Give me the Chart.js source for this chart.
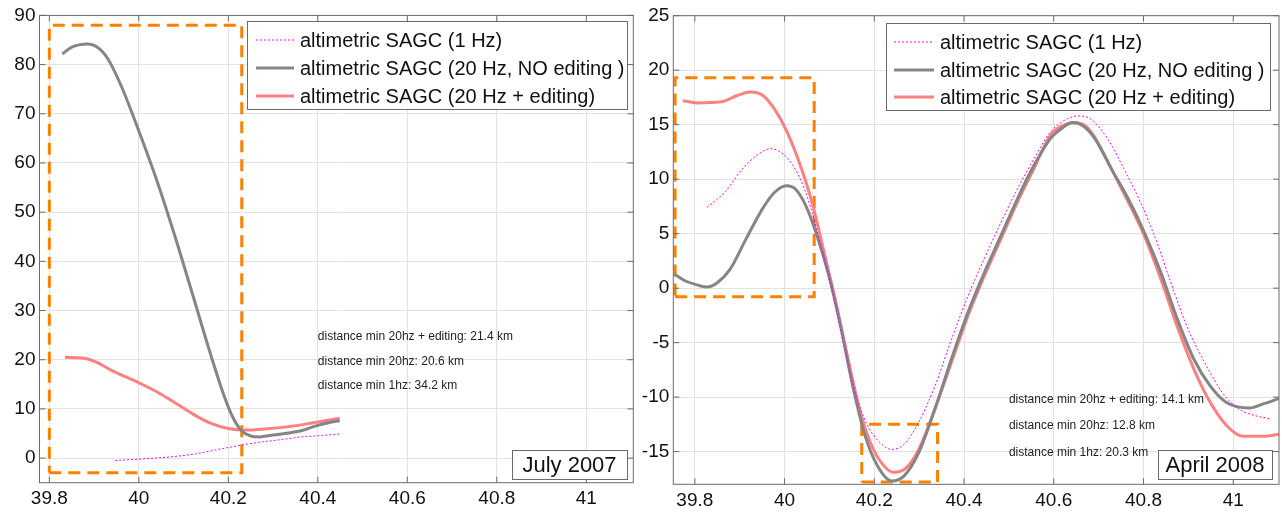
<!DOCTYPE html>
<html>
<head>
<meta charset="utf-8">
<title>SAGC profiles</title>
<script src="https://cdn.jsdelivr.net/npm/chart.js@4.4.1/dist/chart.umd.min.js"></script>
<style>
  html, body { margin: 0; padding: 0; background: #fff; }
  #wrap { position: relative; width: 1282px; height: 512px; }
  .panel { position: absolute; top: 0; height: 512px; }
  #p1 { left: 0; width: 640px; }
  #p2 { left: 640px; width: 642px; }
</style>
</head>
<body>
<div id="wrap">
  <div class="panel" id="p1"><canvas id="c1" width="640" height="512"></canvas></div>
  <div class="panel" id="p2"><canvas id="c2" width="642" height="512"></canvas></div>
</div>
<script>
// ---------- data ----------
var xTicks = [39.8, 40, 40.2, 40.4, 40.6, 40.8, 41];
var julyYTicks = [0, 10, 20, 30, 40, 50, 60, 70, 80, 90];
var aprilYTicks = [-15, -10, -5, 0, 5, 10, 15, 20, 25];

var seriesLabels = [
  "altimetric SAGC (1 Hz)",
  "altimetric SAGC (20 Hz, NO editing )",
  "altimetric SAGC (20 Hz + editing)"
];

// July 2007
var julyX1Hz = [39.947, 40.003, 40.077, 40.129, 40.173, 40.203, 40.232, 40.268, 40.312, 40.363, 40.409, 40.449];
var julyY1Hz = [-0.5, -0.2, 0.3, 0.9, 1.7, 2.2, 2.7, 3.2, 3.7, 4.3, 4.6, 4.9];
var julyX20 = [39.829, 39.849, 39.886, 39.905, 39.93, 39.96, 40.0, 40.04, 40.08, 40.12,
  40.16, 40.19, 40.21, 40.23, 40.25, 40.27, 40.3, 40.335, 40.365, 40.394,
  40.424, 40.449];
var julyY20 = [82.15, 83.5, 84.2, 83.7, 81.3, 75.8, 66.5, 56.5, 45.3, 33.3,
  21.2, 12.8, 8.3, 5.5, 4.5, 4.3, 4.7, 5.1, 5.6, 6.5,
  7.2, 7.6];
var julyXEd = [39.835, 39.878, 39.905, 39.94, 40.0, 40.04, 40.08, 40.12, 40.16, 40.2,
  40.24, 40.28, 40.335, 40.39, 40.449];
var julyYEd = [20.5, 20.3, 19.5, 17.8, 15.3, 13.5, 11.3, 9.0, 7.1, 6.0,
  5.7, 5.9, 6.4, 7.2, 8.1];
var julyBoxX = [39.80, 40.23];
var julyBoxY = [-3, 88];
var julyNotes = [
  "distance min 20hz + editing: 21.4 km",
  "distance min 20hz: 20.6 km",
  "distance min 1hz: 34.2 km"
];

// April 2008
var aprilX1Hz = [39.827, 39.869, 39.905, 39.942, 39.969, 39.997, 40.024, 40.052, 40.079, 40.107,
  40.134, 40.162, 40.189, 40.216, 40.239, 40.267, 40.299, 40.335, 40.372, 40.409,
  40.445, 40.482, 40.519, 40.555, 40.592, 40.628, 40.656, 40.683, 40.72, 40.757,
  40.793, 40.83, 40.866, 40.903, 40.94, 40.976, 41.013, 41.049, 41.084];
var aprilY1Hz = [7.4, 8.9, 10.9, 12.3, 12.8, 12.3, 10.9, 8.2, 4.2, -0.4,
  -5.6, -10.2, -12.9, -14.3, -14.8, -14.3, -12.3, -9.0, -4.7, -0.7,
  2.7, 6.0, 9.1, 11.8, 14.3, 15.5, 15.8, 15.5, 13.7, 10.9,
  7.9, 4.2, -0.1, -4.1, -7.1, -9.6, -11.1, -11.7, -12.0];
var aprilX20 = [39.754, 39.777, 39.805, 39.827, 39.85, 39.878, 39.914, 39.951, 39.978, 40.004,
  40.024, 40.047, 40.07, 40.097, 40.125, 40.152, 40.18, 40.207, 40.239, 40.267,
  40.299, 40.335, 40.372, 40.409, 40.445, 40.482, 40.519, 40.555, 40.592, 40.619,
  40.642, 40.665, 40.692, 40.729, 40.766, 40.802, 40.839, 40.875, 40.912, 40.949,
  40.985, 41.036, 41.068, 41.104];
var aprilY20 = [1.3, 0.7, 0.3, 0.1, 0.5, 1.7, 4.5, 7.3, 8.8, 9.4,
  9.1, 7.6, 5.1, 1.4, -3.5, -9.0, -13.6, -16.3, -17.7, -17.2,
  -15.1, -11.1, -6.5, -2.2, 1.4, 4.8, 8.2, 11.2, 13.7, 14.7,
  15.2, 14.9, 13.7, 10.9, 8.2, 5.1, 1.4, -2.8, -6.5, -9.0,
  -10.5, -11.0, -10.6, -10.1];
var aprilXEd = [39.773, 39.805, 39.859, 39.896, 39.924, 39.951, 39.978, 40.006, 40.033, 40.061,
  40.088, 40.116, 40.143, 40.171, 40.198, 40.226, 40.244, 40.271, 40.299, 40.335,
  40.372, 40.409, 40.445, 40.482, 40.519, 40.555, 40.592, 40.619, 40.647, 40.67,
  40.692, 40.729, 40.766, 40.802, 40.839, 40.875, 40.912, 40.949, 40.985, 41.022,
  41.068, 41.104];
var aprilYEd = [17.2, 17.0, 17.1, 17.7, 18.0, 17.7, 16.4, 14.3, 11.5, 7.9,
  3.3, -1.6, -6.8, -11.7, -14.8, -16.5, -16.9, -16.5, -14.8, -11.1,
  -6.8, -2.5, 1.1, 4.5, 7.9, 10.9, 14.0, 14.9, 15.2, 14.9,
  13.8, 10.9, 7.9, 4.8, 0.8, -3.5, -7.4, -10.5, -12.6, -13.6,
  -13.6, -13.4];
var aprilBoxX = [39.756, 40.066];
var aprilBoxY = [-0.8, 19.3];
var aprilBox2X = [40.172, 40.341];
var aprilBox2Y = [-17.8, -12.5];
var aprilNotes = [
  "distance min 20hz + editing: 14.1 km",
  "distance min 20hz: 12.8 km",
  "distance min 1hz: 20.3 km"
];

// ---------- helpers ----------
var FONT = "'Liberation Sans', Arial, Helvetica, sans-serif";

function pts(xs, ys) {
  return xs.map(function (x, i) { return { x: x, y: ys[i] }; });
}

function rect(bx, by) { // closed outline, drawn through the scales
  return [
    { x: bx[0], y: by[0] }, { x: bx[1], y: by[0] },
    { x: bx[1], y: by[1] }, { x: bx[0], y: by[1] }, { x: bx[0], y: by[0] }
  ];
}

function curves(x1, y1, x20, y20, xEd, yEd) {
  var base = { showLine: true, pointRadius: 0, fill: false, cubicInterpolationMode: "monotone" };
  return [
    Object.assign({ label: seriesLabels[0], data: pts(x1, y1),
      borderColor: "#ff00ff", borderWidth: 1, borderDash: [2, 2] }, base),
    Object.assign({ label: seriesLabels[1], data: pts(x20, y20),
      borderColor: "#858585", borderWidth: 3 }, base),
    Object.assign({ label: seriesLabels[2], data: pts(xEd, yEd),
      borderColor: "#ff8080", borderWidth: 3 }, base)
  ];
}

function boxDs(bx, by) {
  return { data: rect(bx, by), showLine: true, pointRadius: 0, fill: false, tension: 0,
    borderColor: "#ff8000", borderWidth: 3, borderDash: [12, 7] };
}

// ---------- plugins ----------
var framePlugin = {
  id: "frame",
  afterDraw: function (chart) {
    var c = chart.ctx, a = chart.chartArea, sx = chart.scales.x, sy = chart.scales.y;
    c.save();
    c.strokeStyle = "#6b6b6b";
    c.lineWidth = 1;
    c.strokeRect(a.left, a.top, a.right - a.left, a.bottom - a.top);
    c.beginPath();
    sx.ticks.forEach(function (t) {
      var px = sx.getPixelForValue(t.value);
      c.moveTo(px, a.bottom); c.lineTo(px, a.bottom - 6);
      c.moveTo(px, a.top); c.lineTo(px, a.top + 6);
    });
    sy.ticks.forEach(function (t) {
      var py = sy.getPixelForValue(t.value);
      c.moveTo(a.left, py); c.lineTo(a.left + 6, py);
      c.moveTo(a.right, py); c.lineTo(a.right - 6, py);
    });
    c.stroke();
    c.restore();
  }
};

var legendPlugin = {
  id: "boxLegend",
  afterDraw: function (chart, args, o) {
    var c = chart.ctx, b = o.box;
    c.save();
    c.fillStyle = "#fff";
    c.fillRect(b[0], b[1], b[2] - b[0], b[3] - b[1]);
    c.strokeStyle = "#6b6b6b";
    c.lineWidth = 1;
    c.strokeRect(b[0] + 0.5, b[1] + 0.5, b[2] - b[0], b[3] - b[1]);
    c.font = "20px " + FONT;
    c.textBaseline = "middle";
    c.fillStyle = "#111";
    for (var i = 0; i < 3; i++) {
      var ds = chart.data.datasets[i], y = o.rows[i];
      c.beginPath();
      c.strokeStyle = ds.borderColor;
      c.lineWidth = ds.borderWidth;
      c.setLineDash(ds.borderDash || []);
      c.moveTo(o.line[0], y); c.lineTo(o.line[1], y);
      c.stroke();
      c.setLineDash([]);
      c.fillText(ds.label, o.textX, y + 1);
    }
    c.restore();
  }
};

var notesPlugin = {
  id: "notes",
  afterDraw: function (chart, args, o) {
    var c = chart.ctx, sx = chart.scales.x, sy = chart.scales.y;
    c.save();
    c.font = "12px " + FONT;
    c.fillStyle = "#222";
    c.textBaseline = "middle";
    o.lines.forEach(function (txt, i) {
      c.fillText(txt, sx.getPixelForValue(o.x), sy.getPixelForValue(o.ys[i]));
    });
    // period label in the lower right corner
    var b = o.tagBox;
    c.fillStyle = "#fff";
    c.fillRect(b[0], b[1], b[2] - b[0], b[3] - b[1]);
    c.strokeStyle = "#6b6b6b";
    c.lineWidth = 1;
    c.strokeRect(b[0] + 0.5, b[1] + 0.5, b[2] - b[0], b[3] - b[1]);
    c.font = "22px " + FONT;
    c.fillStyle = "#111";
    c.textAlign = "center";
    c.fillText(o.tag, (b[0] + b[2]) / 2, (b[1] + b[3]) / 2 + 1);
    c.restore();
  }
};

function makeChart(id, cfg) {
  var tickFont = { family: FONT, size: 19 };
  return new Chart(document.getElementById(id), {
    type: "scatter",
    data: { datasets: cfg.datasets },
    options: {
      responsive: false,
      animation: false,
      events: [],
      layout: { padding: cfg.pad },
      plugins: {
        legend: { display: false },
        tooltip: { enabled: false },
        boxLegend: cfg.legend,
        notes: cfg.notes
      },
      scales: {
        x: {
          type: "linear", min: cfg.xMin, max: cfg.xMax,
          afterBuildTicks: function (s) { s.ticks = xTicks.map(function (v) { return { value: v }; }); },
          afterFit: function (s) { s.height = cfg.xAxisH; },
          grid: { color: "#e2e2e2", drawTicks: false },
          border: { display: false },
          ticks: { font: tickFont, color: "#111", padding: 5, maxRotation: 0, autoSkip: false,
            callback: function (v) { return String(v); } }
        },
        y: {
          type: "linear", min: cfg.yMin, max: cfg.yMax,
          afterBuildTicks: function (s) { s.ticks = cfg.yTicks.map(function (v) { return { value: v }; }); },
          afterFit: function (s) { s.width = cfg.yAxisW; },
          grid: { color: "#e2e2e2", drawTicks: false },
          border: { display: false },
          ticks: { font: tickFont, color: "#111", padding: 4, autoSkip: false,
            callback: function (v) { return String(v); } }
        }
      }
    },
    plugins: [framePlugin, legendPlugin, notesPlugin]
  });
}

// ---------- July 2007 ----------
makeChart("c1", {
  datasets: curves(julyX1Hz, julyY1Hz, julyX20, julyY20, julyXEd, julyYEd)
    .concat([boxDs(julyBoxX, julyBoxY)]),
  xMin: 39.778, xMax: 41.105, yMin: -5, yMax: 90, yTicks: julyYTicks,
  pad: { top: 14.7, right: 6.7, bottom: 0, left: 0 }, yAxisW: 39.5, xAxisH: 29.3,
  legend: { box: [247, 21, 627, 109], line: [256, 294], textX: 300, rows: [40, 68, 96] },
  notes: { x: 40.4, ys: [24.7, 19.6, 14.7], lines: julyNotes,
    tag: "July 2007", tagBox: [512, 450, 627, 479] }
});

// ---------- April 2008 ----------
makeChart("c2", {
  datasets: curves(aprilX1Hz, aprilY1Hz, aprilX20, aprilY20, aprilXEd, aprilYEd)
    .concat([boxDs(aprilBoxX, aprilBoxY), boxDs(aprilBox2X, aprilBox2Y)]),
  xMin: 39.752, xMax: 41.102, yMin: -18, yMax: 25, yTicks: aprilYTicks,
  pad: { top: 15.7, right: 3, bottom: 0, left: 0 }, yAxisW: 33.3, xAxisH: 27.7,
  legend: { box: [246, 23, 630, 110], line: [254, 294], textX: 300, rows: [42, 70, 97] },
  notes: { x: 40.5, ys: [-10.2, -12.6, -15.1], lines: aprilNotes,
    tag: "April 2008", tagBox: [518, 450, 632, 479] }
});
</script>
</body>
</html>
